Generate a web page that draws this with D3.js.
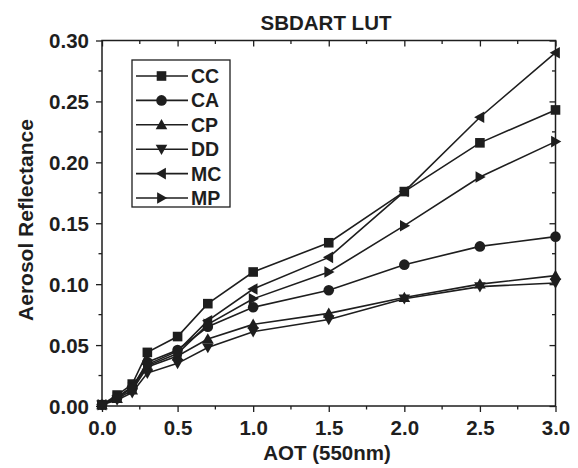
<!DOCTYPE html>
<html><head><meta charset="utf-8">
<script src="https://cdn.jsdelivr.net/npm/d3@7"></script>
<style>body{margin:0;background:#fff}svg{display:block}</style>
</head><body>
<svg id="c" width="578" height="468"></svg>
<script>
const aot = [0, 0.1, 0.2, 0.3, 0.5, 0.7, 1.0, 1.5, 2.0, 2.5, 3.0];
const seriesNames = ["CC", "CA", "CP", "DD", "MC", "MP"];
const CC = [0.001, 0.009, 0.018, 0.044, 0.057, 0.084, 0.110, 0.134, 0.176, 0.216, 0.243];
const CA = [0.001, 0.007, 0.015, 0.036, 0.046, 0.065, 0.081, 0.095, 0.116, 0.131, 0.139];
const CP = [0.001, 0.006, 0.013, 0.032, 0.041, 0.055, 0.067, 0.076, 0.089, 0.100, 0.107];
const DD = [0.001, 0.005, 0.011, 0.027, 0.035, 0.048, 0.061, 0.071, 0.088, 0.098, 0.101];
const MC = [0.001, 0.007, 0.016, 0.034, 0.045, 0.070, 0.096, 0.122, 0.176, 0.237, 0.290];
const MP = [0.001, 0.007, 0.015, 0.033, 0.043, 0.067, 0.088, 0.110, 0.148, 0.188, 0.217];
const xTicks = [0, 0.5, 1.0, 1.5, 2.0, 2.5, 3.0];
const yTicks = [0, 0.05, 0.10, 0.15, 0.20, 0.25, 0.30];
const values = {CC, CA, CP, DD, MC, MP};
const symbols = {CC:"square", CA:"circle", CP:"up", DD:"down", MC:"left", MP:"right"};

const svg = d3.select("#c");
const L = 102, R = 555.5, T = 40.5, B = 406;
const x = d3.scaleLinear().domain([0, 3]).range([L, R]);
const y = d3.scaleLinear().domain([0, 0.3]).range([B, T]);
const font = "'Liberation Sans', Arial, Helvetica, sans-serif";
const ink = "#1e1e1e";

function sym(g, type, cx, cy) {
  const s = 4.8;
  if (type === "square") g.append("rect").attr("x", cx - s).attr("y", cy - s).attr("width", 2*s).attr("height", 2*s);
  else if (type === "circle") g.append("circle").attr("cx", cx).attr("cy", cy).attr("r", s + 0.5);
  else {
    const a = 5.8;
    let pts;
    if (type === "up") pts = [[cx, cy - a], [cx - a, cy + a*0.75], [cx + a, cy + a*0.75]];
    else if (type === "down") pts = [[cx, cy + a], [cx - a, cy - a*0.75], [cx + a, cy - a*0.75]];
    else if (type === "left") pts = [[cx - a, cy], [cx + a*0.75, cy - a], [cx + a*0.75, cy + a]];
    else pts = [[cx + a, cy], [cx - a*0.75, cy - a], [cx - a*0.75, cy + a]];
    g.append("polygon").attr("points", pts.map(p => p.join(",")).join(" "));
  }
}

// axes
const axB = d3.axisBottom(x).tickValues(xTicks).tickFormat(d3.format(".1f")).tickSize(6).tickPadding(4);
const axL = d3.axisLeft(y).tickValues(yTicks).tickFormat(d3.format(".2f")).tickSize(6).tickPadding(7);
const gB = svg.append("g").attr("transform", `translate(0,${B})`).call(axB);
const gL = svg.append("g").attr("transform", `translate(${L},0)`).call(axL);
const xMinor = d3.range(0.25, 3, 0.5);
const yMinor = d3.range(0.025, 0.3, 0.05);
gB.selectAll(".minor").data(xMinor).enter().append("line").attr("class","minor")
  .attr("x1", d => x(d)).attr("x2", d => x(d)).attr("y1", 0).attr("y2", 3.5);
gL.selectAll(".minor").data(yMinor).enter().append("line").attr("class","minor")
  .attr("y1", d => y(d)).attr("y2", d => y(d)).attr("x1", 0).attr("x2", -3.5);
const gT = svg.append("g").attr("transform", `translate(0,${T})`).call(d3.axisTop(x).tickValues(xTicks).tickSize(-6).tickFormat(""));
gT.selectAll(".minor").data(xMinor).enter().append("line").attr("class","minor")
  .attr("x1", d => x(d)).attr("x2", d => x(d)).attr("y1", 0).attr("y2", 3.5);
const gR = svg.append("g").attr("transform", `translate(${R},0)`).call(d3.axisRight(y).tickValues(yTicks).tickSize(-6).tickFormat(""));
gR.selectAll(".minor").data(yMinor).enter().append("line").attr("class","minor")
  .attr("y1", d => y(d)).attr("y2", d => y(d)).attr("x1", 0).attr("x2", -3.5);
[gB, gL, gT, gR].forEach(g => {
  g.selectAll("path.domain").remove();
  g.selectAll("line").attr("stroke", ink).attr("stroke-width", 1.3);
  g.selectAll("text").attr("font-family", font).attr("font-weight", "bold").attr("font-size", 20.5).attr("fill", ink);
});
gB.selectAll(".tick text").attr("y", 29).attr("dy", 0);
gL.selectAll(".tick text").attr("dy", "0.36em");
svg.append("rect").attr("x", L).attr("y", T).attr("width", R - L).attr("height", B - T)
  .attr("fill", "none").attr("stroke", ink).attr("stroke-width", 1.5);

// series
const line = d3.line().x((d, i) => x(aot[i])).y(d => y(d));
const gS = svg.append("g");
seriesNames.forEach(n => {
  gS.append("path").attr("d", line(values[n])).attr("fill", "none").attr("stroke", ink).attr("stroke-width", 1.6);
});
seriesNames.forEach(n => {
  const g = gS.append("g").attr("fill", ink);
  values[n].forEach((v, i) => sym(g, symbols[n], x(aot[i]), y(v)));
});

// legend
const lg = svg.append("g");
lg.append("rect").attr("x", 132).attr("y", 60).attr("width", 98).attr("height", 147)
  .attr("fill", "#fff").attr("stroke", ink).attr("stroke-width", 1.3);
seriesNames.forEach((n, i) => {
  const cy = 76 + i * 24.4;
  lg.append("line").attr("x1", 136).attr("x2", 188).attr("y1", cy).attr("y2", cy).attr("stroke", ink).attr("stroke-width", 1.6);
  const g = lg.append("g").attr("fill", ink);
  sym(g, symbols[n], 161.5, cy);
  lg.append("text").attr("x", 191).attr("y", cy).attr("dy", "0.36em").text(n)
    .attr("font-family", font).attr("font-weight", "bold").attr("font-size", 19.5).attr("fill", ink);
});

// titles
svg.append("text").attr("x", 326).attr("y", 30).attr("text-anchor", "middle").text("SBDART LUT")
  .attr("font-family", font).attr("font-weight", "bold").attr("font-size", 20.5).attr("fill", ink);
svg.append("text").attr("x", 327).attr("y", 460).attr("text-anchor", "middle").text("AOT (550nm)")
  .attr("font-family", font).attr("font-weight", "bold").attr("font-size", 20.5).attr("fill", ink);
svg.append("text").attr("transform", "translate(33,220) rotate(-90)").attr("text-anchor", "middle").text("Aerosol Reflectance")
  .attr("font-family", font).attr("font-weight", "bold").attr("font-size", 21).attr("fill", ink);
</script>
</body></html>
